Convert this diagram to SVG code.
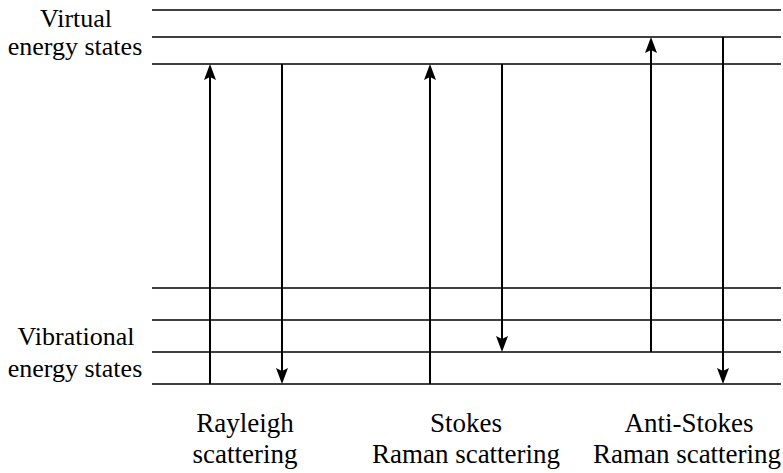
<svg xmlns="http://www.w3.org/2000/svg" width="783" height="473" viewBox="0 0 783 473">
<style>
.lvl{stroke:#000;stroke-width:1.3;fill:none}
.tr{stroke:#000;stroke-width:2;fill:none;marker-end:url(#ah)}
.t{font-family:'Liberation Serif','Times New Roman',Times,'DejaVu Serif',serif;font-size:26px;fill:#000;text-anchor:middle}
.b{font-size:27px}
</style>
<defs>
<marker id="ah" markerUnits="userSpaceOnUse" viewBox="0 0 16 12" markerWidth="16" markerHeight="12" refX="6" refY="6" orient="auto">
<path d="M0,0 L16,6 L0,12 L3,6 z" fill="#000"/>
</marker>
</defs>
<g id="levels">
<line class="lvl" x1="152" y1="10" x2="781" y2="10"/>
<line class="lvl" x1="152" y1="37" x2="781" y2="37"/>
<line class="lvl" x1="152" y1="64" x2="781" y2="64"/>
<line class="lvl" x1="152" y1="288" x2="781" y2="288"/>
<line class="lvl" x1="152" y1="320" x2="781" y2="320"/>
<line class="lvl" x1="152" y1="352" x2="781" y2="352"/>
<line class="lvl" x1="152" y1="384" x2="781" y2="384"/>
</g>
<g id="labels-left">
<text class="t" x="76" y="27">Virtual</text>
<text class="t" x="75" y="55">energy states</text>
<text class="t" x="76" y="345">Vibrational</text>
<text class="t" x="75" y="377">energy states</text>
</g>
<g id="connectors">
<line class="tr" x1="210" y1="384" x2="210" y2="74"/>
<line class="tr" x1="282" y1="64" x2="282" y2="374"/>
<line class="tr" x1="430" y1="384" x2="430" y2="74"/>
<line class="tr" x1="502" y1="64" x2="502" y2="342"/>
<line class="tr" x1="651" y1="352" x2="651" y2="47"/>
<line class="tr" x1="723" y1="37" x2="723" y2="374"/>
</g>
<g id="rayleigh">
<text class="t b" x="245" y="432">Rayleigh</text>
<text class="t b" x="245" y="463">scattering</text>
</g>
<g id="stokes">
<text class="t b" x="466" y="432">Stokes</text>
<text class="t b" x="466" y="463">Raman scattering</text>
</g>
<g id="antistokes">
<text class="t b" x="689" y="432">Anti-Stokes</text>
<text class="t b" x="687" y="463">Raman scattering</text>
</g>
</svg>
